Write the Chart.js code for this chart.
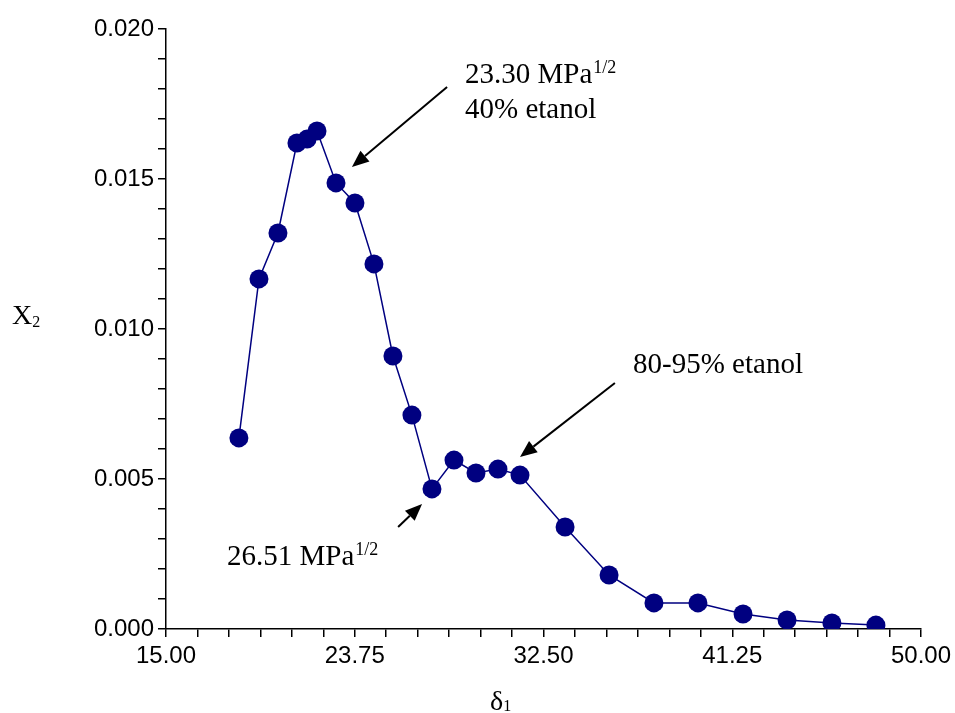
<!DOCTYPE html>
<html>
<head>
<meta charset="utf-8">
<script src="https://cdn.jsdelivr.net/npm/chart.js@4.4.1/dist/chart.umd.min.js"></script>
<style>
  body { margin: 0; background: #fff; }
  #wrap { width: 955px; height: 713px; }
</style>
</head>
<body>
<div id="wrap"><canvas id="chart" width="955" height="713"></canvas></div>
<script>
// delta_1 values and X2 solubility
const deltaValues = [18.38, 19.31, 20.19, 21.07, 21.54, 22.0, 22.88, 23.76, 24.64, 25.52, 26.40, 27.33,
  28.35, 29.37, 30.39, 31.41, 33.50, 35.54, 37.62, 39.66, 41.75, 43.79, 45.87, 47.91];
const x2Values = [0.00637, 0.01167, 0.0132, 0.0162, 0.01633, 0.0166, 0.01487, 0.0142, 0.01217, 0.0091, 0.00713, 0.00467,
  0.00563, 0.0052, 0.00533, 0.00513, 0.0034, 0.0018, 0.00087, 0.00087, 0.0005, 0.0003, 0.0002, 0.00013];

const xMajorTicks = [15, 23.75, 32.5, 41.25, 50];
const xMinorPerMajor = 6;
const yMajorTicks = [0, 0.005, 0.01, 0.015, 0.02];
const yMinorPerMajor = 5;

// annotation arrows: [fromX, fromY, toX, toY] in data units
const arrows = [
  [28.03, 0.01807, 23.62, 0.0154],
  [35.81, 0.0082, 31.41, 0.00573],
  [25.76, 0.0034, 26.87, 0.00417]
];
// annotation texts: x, y (baseline), main text, superscript
const notes = [
  { x: 28.86, y: 0.0182, text: '23.30 MPa', sup: '1/2' },
  { x: 28.86, y: 0.01705, text: '40% etanol', sup: '' },
  { x: 36.65, y: 0.00853, text: '80-95% etanol', sup: '' },
  { x: 17.83, y: 0.00213, text: '26.51 MPa', sup: '1/2' }
];

function withMinors(majors, n) {
  const out = [];
  for (let i = 0; i < majors.length - 1; i++) {
    const step = (majors[i + 1] - majors[i]) / n;
    for (let j = 0; j < n; j++) out.push({ value: majors[i] + j * step, major: j === 0 });
  }
  out.push({ value: majors[majors.length - 1], major: true });
  return out;
}

const serif = '"Liberation Serif", "Times New Roman", serif';

const notesPlugin = {
  id: 'notes',
  afterDraw(chart) {
    const ctx = chart.ctx;
    const xs = chart.scales.x;
    const ys = chart.scales.y;
    const area = chart.chartArea;
    ctx.save();
    ctx.fillStyle = '#000';
    ctx.strokeStyle = '#000';
    ctx.lineWidth = 2;

    arrows.forEach(a => {
      const x1 = xs.getPixelForValue(a[0]), y1 = ys.getPixelForValue(a[1]);
      const x2 = xs.getPixelForValue(a[2]), y2 = ys.getPixelForValue(a[3]);
      const ang = Math.atan2(y2 - y1, x2 - x1);
      const headLen = 17, headW = 7;
      const bx = x2 - headLen * Math.cos(ang), by = y2 - headLen * Math.sin(ang);
      ctx.beginPath();
      ctx.moveTo(x1, y1);
      ctx.lineTo(bx, by);
      ctx.stroke();
      ctx.beginPath();
      ctx.moveTo(x2, y2);
      ctx.lineTo(bx + headW * Math.sin(ang), by - headW * Math.cos(ang));
      ctx.lineTo(bx - headW * Math.sin(ang), by + headW * Math.cos(ang));
      ctx.closePath();
      ctx.fill();
    });

    ctx.textBaseline = 'alphabetic';
    ctx.textAlign = 'left';
    notes.forEach(n => {
      const px = xs.getPixelForValue(n.x), py = ys.getPixelForValue(n.y);
      ctx.font = '29px ' + serif;
      ctx.fillText(n.text, px, py);
      if (n.sup) {
        const w = ctx.measureText(n.text).width;
        ctx.font = '18px ' + serif;
        ctx.fillText(n.sup, px + w + 1, py - 10);
      }
    });

    // axis titles
    ctx.font = '28px ' + serif;
    ctx.fillText('X', 12, 324);
    let w = ctx.measureText('X').width;
    ctx.font = '16px ' + serif;
    ctx.fillText('2', 12 + w, 327);

    ctx.font = '28px ' + serif;
    ctx.fillText('\u03B4', 490, area.bottom + 81);
    w = ctx.measureText('\u03B4').width;
    ctx.font = '16px ' + serif;
    ctx.fillText('1', 490 + w, area.bottom + 82);
    ctx.restore();
  }
};

const tickFont = { family: '"Liberation Sans", Arial, sans-serif', size: 24 };

new Chart(document.getElementById('chart'), {
  type: 'line',
  data: {
    datasets: [{
      data: deltaValues.map((v, i) => ({ x: v, y: x2Values[i] })),
      borderColor: '#000080',
      borderWidth: 1.5,
      backgroundColor: '#000080',
      pointRadius: 9.5,
      pointBorderWidth: 0,
      pointBackgroundColor: '#000080',
      tension: 0
    }]
  },
  options: {
    responsive: false,
    animation: false,
    layout: { padding: { top: 29, right: 34, left: 0, bottom: 0 } },
    plugins: { legend: { display: false }, tooltip: { enabled: false } },
    scales: {
      x: {
        type: 'linear',
        min: 15,
        max: 50,
        afterBuildTicks: s => { s.ticks = withMinors(xMajorTicks, xMinorPerMajor); },
        afterFit: s => { s.height = 84; s.paddingRight = 0; s.paddingLeft = 0; },
        ticks: {
          autoSkip: false,
          maxRotation: 0,
          color: '#000',
          font: tickFont,
          padding: 5,
          callback: (v, i, t) => t[i].major ? v.toFixed(2) : ''
        },
        grid: { drawOnChartArea: false, drawTicks: true, tickLength: 8, color: '#000', lineWidth: 1.5 },
        border: { display: true, color: '#000', width: 1.5 }
      },
      y: {
        type: 'linear',
        min: 0,
        max: 0.02,
        afterBuildTicks: s => { s.ticks = withMinors(yMajorTicks, yMinorPerMajor); },
        afterFit: s => { s.width = 166; s.paddingTop = 0; s.paddingBottom = 0; },
        ticks: {
          autoSkip: false,
          color: '#000',
          font: tickFont,
          padding: 4,
          callback: (v, i, t) => t[i].major ? v.toFixed(3) : ''
        },
        grid: { drawOnChartArea: false, drawTicks: true, tickLength: 8, color: '#000', lineWidth: 1.5 },
        border: { display: true, color: '#000', width: 1.5 }
      }
    }
  },
  plugins: [notesPlugin]
});
</script>
</body>
</html>
